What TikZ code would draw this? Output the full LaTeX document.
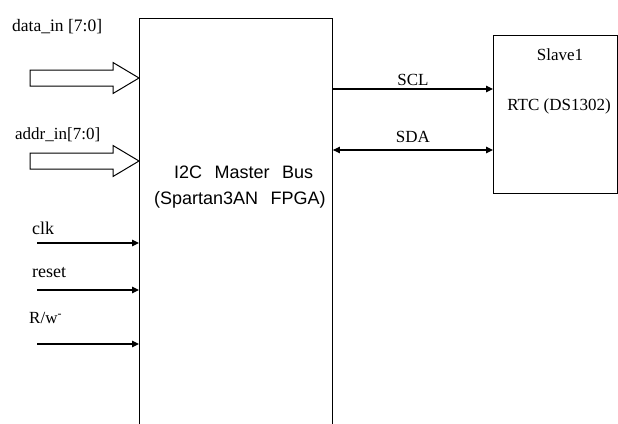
\documentclass[tikz,border=0pt]{standalone}
\usepackage{fontspec}
\setmainfont{Liberation Serif}
\newfontfamily\busfont[WordSpace=2.5]{Liberation Sans}
\usetikzlibrary{arrows.meta,positioning,calc}

% hollow bus arrow: name, y position
\newcommand{\busarrow}[2]{%
  \coordinate (#1) at (30,#2);
  \draw[line width=1pt, line join=miter]
    (#1) ++(0,-8) -- ++(83,0) -- ++(0,-7.5) -- (master.west |- #1)
    -- ($(master.west |- #1)+(-26,15.5)$) -- ++(0,-7.5) -- ++(-83,0) -- cycle;
}

\begin{document}
\begin{tikzpicture}[
    x=1pt, y=-1pt, >={Triangle[length=7pt,width=6.5pt]},
    sig/.style={->, line width=1.2pt},
    lbl/.style={font=\fontsize{17}{20}\selectfont, inner sep=0pt},
    mlbl/.style={font=\busfont\fontsize{18}{22}\selectfont, inner sep=0pt}
  ]
  \clip (0,0) rectangle (618,423);
  \fill[white] (0,0) rectangle (618,423);
  % Blocks
  \node[draw, line width=0.9pt, anchor=north west, minimum width=193pt,
    minimum height=430pt] (master) at (139,18) {};
  \node[mlbl, anchor=base west] (mtop) at (174,178) {I2C Master Bus};
  \node[mlbl, anchor=base west] (mbot) at (154,204) {(Spartan3AN FPGA)};
  \node[draw, line width=0.9pt, anchor=north west, minimum width=124pt,
    minimum height=158pt] (slave) at (493,35) {};
  \node[lbl] (sname) at (560,55) {Slave1};
  \node[lbl] (rtc) at (559,106) {RTC (DS1302)};
  % Bus
  \coordinate (scl) at (0,89);
  \coordinate (sda) at (0,150);
  \draw[sig] (master.east |- scl) -- node[lbl, above=3pt]{SCL} (slave.west |- scl);
  \draw[sig, <->] (master.east |- sda) -- node[lbl, above=7pt]{SDA} (slave.west |- sda);
  % Inputs
  \node[lbl, font=\fontsize{17.5}{20}\selectfont, anchor=west] (ldata) at (12,27) {data\_in [7:0]};
  \busarrow{din}{78}
  \node[lbl, anchor=west] (laddr) at (15,135) {addr\_in[7:0]};
  \busarrow{ain}{161}
  \node[lbl, font=\fontsize{18}{20}\selectfont, anchor=west] (lclk) at (32,228) {clk};
  \coordinate (clk) at (37,243);
  \draw[sig] (clk) -- (master.west |- clk);
  \node[lbl, font=\fontsize{18}{20}\selectfont, anchor=west] (lreset) at (32,273) {reset};
  \coordinate (reset) at (37,290);
  \draw[sig] (reset) -- (master.west |- reset);
  \node[lbl, anchor=west] (lrw) at (29,318) {R/w\textsuperscript{-}};
  \coordinate (rw) at (37,344);
  \draw[sig] (rw) -- (master.west |- rw);
\end{tikzpicture}
\end{document}
